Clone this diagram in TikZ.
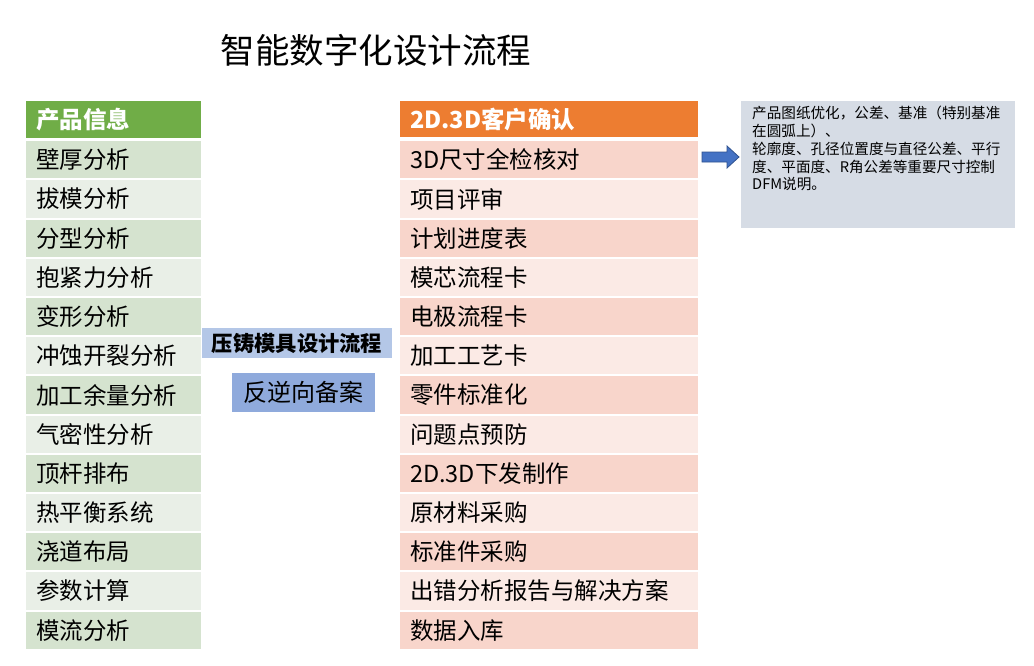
\documentclass[tikz,border=0pt]{standalone}
\usepackage{fontspec}
\setmainfont{Noto Sans CJK SC}
\usetikzlibrary{positioning}
\definecolor{lhead}{HTML}{70AD47}
\definecolor{lrowA}{HTML}{D5E3CF}
\definecolor{lrowB}{HTML}{E9EFE7}
\definecolor{rhead}{HTML}{ED7D31}
\definecolor{rrowA}{HTML}{F8D5CB}
\definecolor{rrowB}{HTML}{FBEAE5}
\definecolor{midA}{HTML}{B4C7E7}
\definecolor{midB}{HTML}{8FAADC}
\definecolor{arrfill}{HTML}{4472C4}
\definecolor{arrline}{HTML}{2F528F}
\definecolor{notefill}{HTML}{D6DCE5}
\tikzset{
  cell/.style={inner xsep=10pt, inner ysep=0pt, minimum height=37.2pt, align=left,
    font=\fontsize{23.5}{26}\selectfont, text=black},
  lcell/.style={cell, text width=155pt},
  rcell/.style={cell, text width=278pt},
  headtxt/.style={font=\fontsize{23.5}{26}\selectfont\bfseries, text=white},
  midbox/.style={inner sep=0pt, align=center},
}
\begin{document}
\begin{tikzpicture}[x=1pt,y=-1pt]
\useasboundingbox (0,0) rectangle (1034,665);
\fill[white] (0,0) rectangle (1034,665);
% title
\node[font=\fontsize{34.5}{38}\selectfont] (title) at (376,50) {智能数字化设计流程};
% left column
\node[lcell, headtxt, fill=lhead, anchor=north west] (L0) at (26,101) {产品信息};
\foreach \t [count=\i] in {壁厚分析,拔模分析,分型分析,抱紧力分析,变形分析,冲蚀开裂分析,加工余量分析,气密性分析,顶杆排布,热平衡系统,浇道布局,参数计算,模流分析}{
  \pgfmathsetmacro{\yy}{141+39.2*(\i-1)}
  \pgfmathtruncatemacro{\odd}{mod(\i,2)}
  \ifnum\odd=1 \def\cc{lrowA}\else\def\cc{lrowB}\fi
  \node[lcell, fill=\cc, anchor=north west] (L\i) at (26,\yy) {\t};
}
% right column
\node[rcell, headtxt, fill=rhead, anchor=north west, minimum height=36pt] (R0) at (400,101) {2D.3D客户确认};
\foreach \t [count=\i] in {3D尺寸全检核对,项目评审,计划进度表,模芯流程卡,电极流程卡,加工工艺卡,零件标准化,问题点预防,2D.3D下发制作,原材料采购,标准件采购,出错分析报告与解决方案,数据入库}{
  \pgfmathsetmacro{\yy}{141+39.2*(\i-1)}
  \pgfmathtruncatemacro{\odd}{mod(\i,2)}
  \ifnum\odd=1 \def\cc{rrowA}\else\def\cc{rrowB}\fi
  \node[rcell, fill=\cc, anchor=north west] (R\i) at (400,\yy) {\t};
}
% middle boxes
\node[midbox, fill=midA, minimum width=190pt, minimum height=30pt,
  font=\fontsize{21.3}{24}\selectfont\bfseries] (M1) at (297,343) {压铸模具设计流程};
\node[midbox, fill=midB, minimum width=143pt, minimum height=39pt,
  font=\fontsize{24}{27}\selectfont] (M2) at (303.5,392.5) {反逆向备案};
% note box
\node[fill=notefill, anchor=north west, minimum width=274pt, minimum height=127pt] (N) at (741,101) {};
\node[anchor=north west, inner sep=0pt, align=left, font=\fontsize{14.6}{17.8}\selectfont] (NT) at (752,106)
  {产品图纸优化，公差、基准（特别基准\\在圆弧上）、\\轮廓度、孔径位置度与直径公差、平行\\度、平面度、R角公差等重要尺寸控制\\DFM说明。};
% block arrow
\filldraw[fill=arrfill, draw=arrline, line width=0.8pt]
  (702,152) -- (727,152) -- (727,146) -- (739,157) -- (727,168) -- (727,162) -- (702,162) -- cycle;
\end{tikzpicture}
\end{document}
